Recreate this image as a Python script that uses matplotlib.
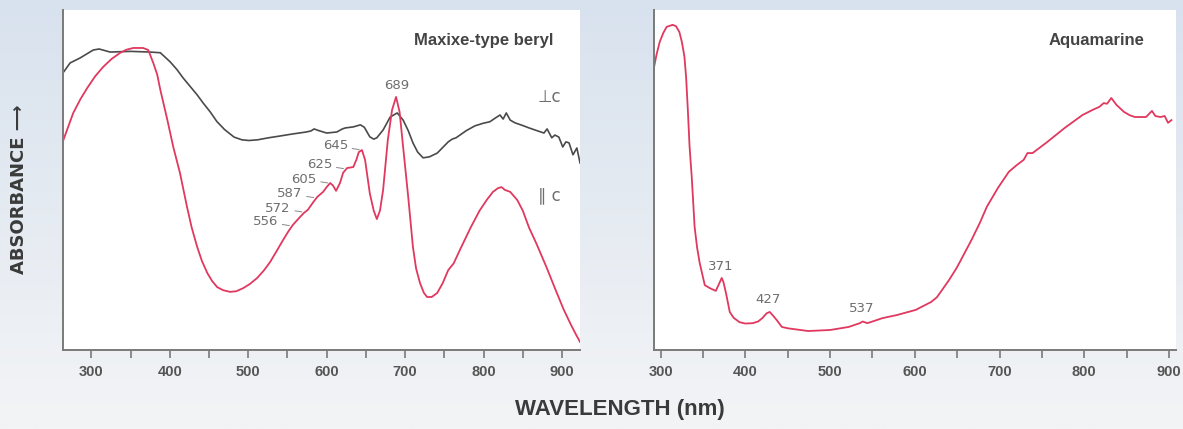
import numpy as np
import matplotlib
matplotlib.use('Agg')
import matplotlib.pyplot as plt
from matplotlib.colors import to_rgb

# --- data (wavelength nm, relative absorbance) ---------------------------
maxixe_perp_nm = [264, 273, 286, 302.5, 310, 324, 350, 375, 388, 400.6, 409, 417, 426,
                  435, 443, 451.6, 460, 470, 482, 492, 501, 512, 526, 540, 556, 574,
                  580, 584, 590, 600, 613, 620, 624, 634, 643, 648, 655, 660, 664, 672,
                  681, 690, 697.5, 704, 710, 716, 723, 731, 741, 755, 760, 765, 778,
                  789, 800, 808, 815, 821, 825, 829, 834, 840, 850, 858, 868, 877, 881,
                  887, 891, 896, 901, 905, 909, 914, 919, 923]
maxixe_perp_abs = [0.815, 0.844, 0.859, 0.882, 0.885, 0.876, 0.878, 0.876, 0.874, 0.847,
                   0.825, 0.800, 0.775, 0.750, 0.725, 0.700, 0.672, 0.648, 0.626, 0.618,
                   0.616, 0.618, 0.624, 0.629, 0.635, 0.641, 0.644, 0.650, 0.645, 0.638,
                   0.641, 0.650, 0.653, 0.656, 0.662, 0.655, 0.627, 0.620, 0.624, 0.647,
                   0.685, 0.697, 0.676, 0.645, 0.609, 0.582, 0.565, 0.568, 0.579, 0.612,
                   0.620, 0.624, 0.645, 0.659, 0.667, 0.671, 0.682, 0.691, 0.679, 0.697,
                   0.676, 0.668, 0.660, 0.653, 0.645, 0.638, 0.650, 0.624, 0.632, 0.626,
                   0.597, 0.612, 0.609, 0.574, 0.594, 0.550]

maxixe_par_nm = [264, 277, 286, 295, 305, 315, 326, 337, 345, 353.5, 366, 372.6, 379, 384,
                 388, 397, 404.5, 413, 422, 428, 435, 441, 448, 454, 460.5, 468, 477, 485,
                 493.6, 502, 511.5, 520, 528, 536, 544.6, 551, 557, 566, 571, 576, 583,
                 588, 595.5, 600, 604.5, 608, 612, 617, 621, 626, 634, 638, 641, 645,
                 649, 655, 660, 664, 668, 672, 678, 683.4, 688.5, 693, 697.5, 704, 710,
                 714, 719, 724, 728, 734, 741, 748, 755, 762, 770, 784, 795, 804, 812,
                 818.5, 823, 827, 834, 843, 850, 858, 867, 880, 892, 902, 911.5, 918, 923]
maxixe_par_abs = [0.615, 0.697, 0.737, 0.771, 0.805, 0.832, 0.856, 0.874, 0.883, 0.888,
                  0.888, 0.882, 0.844, 0.810, 0.765, 0.676, 0.597, 0.521, 0.421, 0.360,
                  0.303, 0.262, 0.226, 0.203, 0.185, 0.176, 0.171, 0.173, 0.182, 0.194,
                  0.212, 0.234, 0.259, 0.290, 0.324, 0.348, 0.368, 0.391, 0.403, 0.412,
                  0.435, 0.450, 0.465, 0.479, 0.491, 0.484, 0.468, 0.491, 0.521, 0.535,
                  0.538, 0.560, 0.582, 0.588, 0.559, 0.461, 0.410, 0.385, 0.410, 0.471,
                  0.618, 0.706, 0.744, 0.700, 0.597, 0.450, 0.303, 0.240, 0.197, 0.168,
                  0.156, 0.156, 0.168, 0.197, 0.235, 0.255, 0.295, 0.362, 0.410, 0.441,
                  0.465, 0.476, 0.479, 0.471, 0.465, 0.441, 0.410, 0.360, 0.315, 0.245,
                  0.176, 0.120, 0.074, 0.045, 0.024]

aqua_nm = [291, 295, 298.8, 303, 307, 314, 318, 322, 325, 328, 330, 332, 334, 336.6, 340,
           343, 346, 352, 358, 365, 368, 372, 374, 377, 381.5, 386, 393, 400, 408.6, 415,
           420, 425, 428.7, 433, 437, 443, 450, 456, 474, 500, 522, 535, 538.5, 544, 562,
           579, 601, 619, 626, 632, 641, 650, 667, 677, 685, 698, 711, 720, 728.5, 733,
           739, 755, 777, 798, 810, 818, 823, 827, 832, 838, 847, 854, 860, 873, 880, 884,
           890, 895, 899, 903]
aqua_abs = [0.818, 0.868, 0.906, 0.932, 0.950, 0.956, 0.952, 0.935, 0.905, 0.862, 0.800,
            0.706, 0.600, 0.509, 0.362, 0.300, 0.256, 0.191, 0.182, 0.174, 0.190, 0.212,
            0.200, 0.168, 0.112, 0.095, 0.082, 0.078, 0.079, 0.084, 0.094, 0.108, 0.112,
            0.100, 0.088, 0.068, 0.064, 0.062, 0.056, 0.059, 0.068, 0.079, 0.084, 0.079,
            0.094, 0.103, 0.118, 0.141, 0.155, 0.176, 0.208, 0.244, 0.324, 0.375, 0.421,
            0.476, 0.524, 0.543, 0.559, 0.579, 0.579, 0.609, 0.653, 0.691, 0.706, 0.715,
            0.726, 0.724, 0.741, 0.721, 0.700, 0.690, 0.685, 0.685, 0.703, 0.688, 0.685,
            0.688, 0.668, 0.676]

maxixe_peaks = [556, 572, 587, 605, 625, 645]
aqua_peaks = [371, 427, 537]

xticks = [300, 400, 500, 600, 700, 800, 900]
minor_ticks = [350, 450, 550, 650, 750, 850]

RED = '#e0385e'
DARK = '#4a4a4a'
GRAY = '#6e6e6e'
AXC = '#7a7a7a'
COND = ['Liberation Sans', 'DejaVu Sans']

fig = plt.figure(figsize=(11.83, 4.29), dpi=100)

# background gradient
bg = fig.add_axes([0, 0, 1, 1], zorder=-10)
top = np.array(to_rgb('#d8e2ee'))
bot = np.array(to_rgb('#f3f4f6'))
t = np.linspace(0, 1, 200)[:, None]
grad = (top * (1 - t) + bot * t)[:, None, :] * np.ones((1, 10, 1))
bg.imshow(grad, aspect='auto', extent=[0, 1, 0, 1])
bg.axis('off')


def style_axes(ax, xlim):
    ax.set_xlim(*xlim)
    ax.set_ylim(0, 1)
    ax.set_facecolor('white')
    for s in ['top', 'right']:
        ax.spines[s].set_visible(False)
    for s in ['left', 'bottom']:
        ax.spines[s].set_color(AXC)
        ax.spines[s].set_linewidth(1.4)
    ax.set_yticks([])
    ax.set_xticks(xticks)
    ax.set_xticks(minor_ticks, minor=True)
    ax.tick_params(axis='x', which='both', direction='out', length=6, width=1.2,
                   color=AXC, pad=5)
    for lab in ax.get_xticklabels():
        lab.set_family(COND)
        lab.set_fontweight('bold')
        lab.set_fontsize(10.5)
        lab.set_color('#555555')


# --- Maxixe-type beryl ---
ax1 = fig.add_axes([0.0533, 0.184, 0.437, 0.793])
style_axes(ax1, (264, 923))
ax1.plot(maxixe_perp_nm, maxixe_perp_abs, color=DARK, lw=1.2)
ax1.plot(maxixe_par_nm, maxixe_par_abs, color=RED, lw=1.3)
ax1.text(0.814, 0.91, 'Maxixe-type beryl', transform=ax1.transAxes, ha='center',
         va='center', fontsize=12, fontweight='bold', color='#444444', family=COND)
ax1.text(0.94, 0.745, '⊥c', transform=ax1.transAxes, ha='center', va='center',
         fontsize=12, color=GRAY)
ax1.text(0.94, 0.455, '∥ c', transform=ax1.transAxes, ha='center', va='center',
         fontsize=12, color=GRAY)

ax1.annotate('689', xy=(689, np.interp(689, maxixe_par_nm, maxixe_par_abs)),
             xytext=(0, 5), textcoords='offset points', ha='center', va='bottom',
             fontsize=9.5, color=GRAY)
for p in maxixe_peaks:
    y = np.interp(p, maxixe_par_nm, maxixe_par_abs)
    ax1.annotate(str(p), xy=(p, y), xytext=(-10, 3), textcoords='offset points',
                 ha='right', va='center', fontsize=9.5, color=GRAY,
                 arrowprops=dict(arrowstyle='-', color='#888888', lw=0.7,
                                 shrinkA=1, shrinkB=2))

# --- Aquamarine ---
ax2 = fig.add_axes([0.5528, 0.184, 0.441, 0.793])
style_axes(ax2, (292, 908))
ax2.plot(aqua_nm, aqua_abs, color=RED, lw=1.3)
ax2.text(0.849, 0.91, 'Aquamarine', transform=ax2.transAxes, ha='center',
         va='center', fontsize=12, fontweight='bold', color='#444444', family=COND)
for p in aqua_peaks:
    y = np.interp(p, aqua_nm, aqua_abs)
    ax2.annotate(str(p), xy=(p, y), xytext=(0, 5), textcoords='offset points',
                 ha='center', va='bottom', fontsize=9.5, color=GRAY)

fig.text(0.524, 0.045, 'WAVELENGTH (nm)', ha='center', va='center', fontsize=16,
         fontweight='bold', color='#3a3a3a', family=COND)
fig.text(0.016, 0.56, 'ABSORBANCE ⟶', ha='center', va='center', rotation=90,
         fontsize=13, fontweight='bold', color='#3a3a3a',
         family=['DejaVu Sans Condensed', 'DejaVu Sans'])

fig.savefig('out.png', dpi=100)
